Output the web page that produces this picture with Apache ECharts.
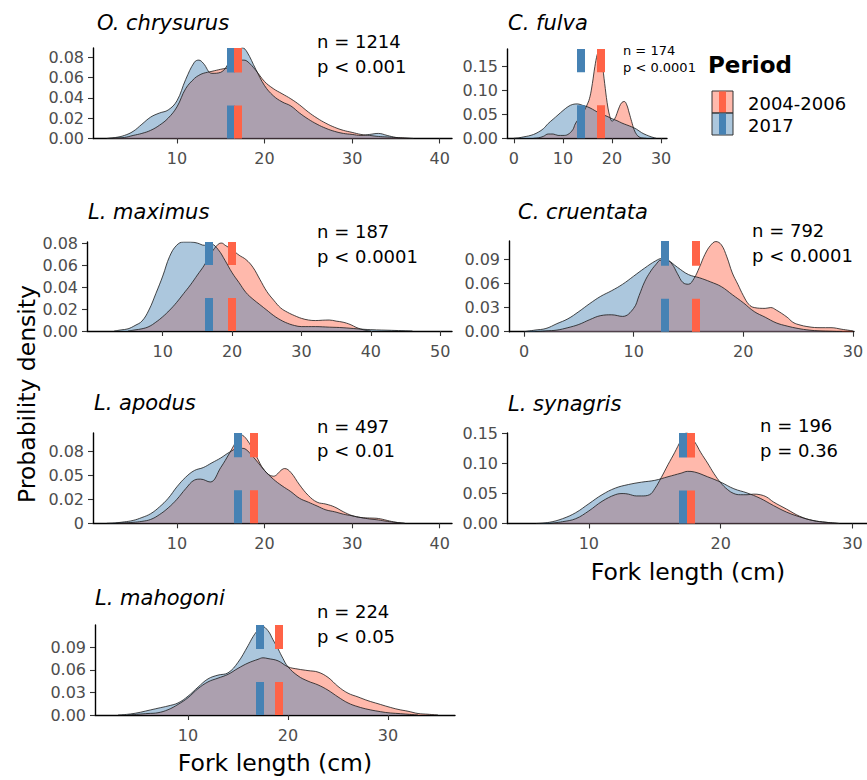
<!DOCTYPE html>
<html>
<head>
<meta charset="utf-8">
<script src="https://cdn.jsdelivr.net/npm/echarts@6/dist/echarts.min.js"></script>
<style>
html, body { margin: 0; padding: 0; background: #fff; }
#main { width: 867px; height: 780px; }
</style>
</head>
<body>
<div id="main"></div>
<script>
// panels in reading order
var species = ['O. chrysurus', 'C. fulva', 'L. maximus', 'C. cruentata', 'L. apodus', 'L. synagris', 'L. mahogoni'];
var sampleSizes = ['n = 1214', 'n = 174', 'n = 187', 'n = 792', 'n = 497', 'n = 196', 'n = 224'];
var pValues = ['p < 0.001', 'p < 0.0001', 'p < 0.0001', 'p < 0.0001', 'p < 0.01', 'p = 0.36', 'p < 0.05'];
var periods = ['2004-2006', '2017'];

// mean fork length (cm) per period
var means2004 = [17.0, 17.8, 20.0, 15.7, 18.8, 17.7, 19.1];
var means2017 = [16.1, 13.7, 16.7, 12.8, 17.0, 17.1, 17.2];

// tick values and labels
var xTicks = [[10, 20, 30, 40], [0, 10, 20, 30], [10, 20, 30, 40, 50], [0, 10, 20, 30], [10, 20, 30, 40], [10, 20, 30], [10, 20, 30]];
var yTicks = [
    [0, 0.02, 0.04, 0.06, 0.08], [0, 0.05, 0.10, 0.15], [0, 0.02, 0.04, 0.06, 0.08], [0, 0.03, 0.06, 0.09],
    [0, 0.025, 0.05, 0.075], [0, 0.05, 0.10, 0.15], [0, 0.03, 0.06, 0.09]
];
var yTickLabels = [
    ['0.00', '0.02', '0.04', '0.06', '0.08'], ['0.00', '0.05', '0.10', '0.15'], ['0.00', '0.02', '0.04', '0.06', '0.08'],
    ['0.00', '0.03', '0.06', '0.09'], ['0', '0.02', '0.05', '0.08'], ['0.00', '0.05', '0.10', '0.15'], ['0.00', '0.03', '0.06', '0.09']
];

// densities: O. chrysurus
var chrysurusX = [2,3,4,5,6,7,8,9,10,11,12,12.5,13,14,15,16,17,17.5,18,19,20,21,22,23,24,25,26,27,28,29,30,31,32,33,34,35,36,37];
var chrysurus2004 = [0,0.0005,0.001,0.003,0.005,0.008,0.013,0.020,0.031,0.049,0.059,0.062,0.064,0.066,0.068,0.070,0.076,0.077,0.076,0.067,0.056,0.049,0.044,0.039,0.033,0.026,0.020,0.015,0.011,0.008,0.006,0.004,0.003,0.002,0.0015,0.001,0.0005,0];
var chrysurus2017 = [0,0.001,0.003,0.007,0.014,0.021,0.025,0.028,0.037,0.058,0.075,0.077,0.074,0.064,0.065,0.075,0.086,0.089,0.085,0.068,0.052,0.042,0.036,0.032,0.025,0.019,0.014,0.010,0.007,0.005,0.004,0.003,0.004,0.005,0.003,0.001,0.0003,0];

// C. fulva
var fulvaX2004 = [4,5,6,7,8,9,10,11,12,12.5,13,14,15,15.5,16,16.5,17,17.4,18,18.5,19,19.5,20,20.5,21,21.5,22,22.5,23,23.5,24,24.5,25,25.5,26,27];
var fulva2004 = [0,0.001,0.004,0.009,0.009,0.006,0.006,0.008,0.018,0.030,0.038,0.052,0.072,0.087,0.115,0.150,0.176,0.185,0.155,0.115,0.075,0.048,0.036,0.040,0.052,0.066,0.075,0.077,0.070,0.053,0.035,0.018,0.008,0.003,0.001,0];
var fulvaX2017 = [0,1,2,3,4,5,6,7,8,9,10,11,12,13,14,15,16,17,18,19,20,21,22,23,24,25,26,27,28,29];
var fulva2017 = [0,0.001,0.003,0.005,0.008,0.013,0.020,0.031,0.040,0.049,0.058,0.066,0.071,0.072,0.069,0.066,0.061,0.055,0.050,0.046,0.041,0.037,0.032,0.028,0.024,0.019,0.012,0.007,0.003,0];

// L. maximus
var maximusX2004 = [5,6,7,8,9,10,11,12,13,14,15,16,17,18,18.5,19,20,21,22,23,24,25,26,27,28,29,30,31,32,33,34,35,36,37,38,39,40];
var maximus2004 = [0,0.001,0.002,0.004,0.008,0.013,0.019,0.026,0.034,0.042,0.051,0.060,0.071,0.079,0.080,0.078,0.074,0.069,0.065,0.058,0.047,0.036,0.028,0.021,0.017,0.014,0.0115,0.010,0.0095,0.0098,0.010,0.009,0.008,0.006,0.003,0.001,0];
var maximusX2017 = [3,4,5,6,7,8,9,10,11,12,13,14,15,16,17,18,19,20,21,22,23,24,25,26,27,28,29,30,32,34,36,38,40,43,46];
var maximus2017 = [0,0.001,0.002,0.005,0.009,0.019,0.034,0.050,0.068,0.078,0.081,0.081,0.080,0.078,0.079,0.074,0.064,0.053,0.044,0.035,0.029,0.024,0.019,0.014,0.010,0.007,0.005,0.004,0.004,0.0035,0.003,0.002,0.0012,0.0006,0];

// C. cruentata
var cruentataX2004 = [1,2,3,4,5,6,7,8,9,10,10.5,11,11.5,12,12.5,13,13.5,14,14.5,15,15.5,16,16.5,17,17.5,18,18.5,19,19.5,20,20.5,21,22,22.5,23,24,24.5,25,26,27,28,29,30];
var cruentata2004 = [0,0.001,0.002,0.005,0.009,0.015,0.020,0.021,0.019,0.029,0.045,0.062,0.074,0.083,0.089,0.089,0.084,0.072,0.061,0.059,0.066,0.080,0.096,0.107,0.112,0.108,0.093,0.073,0.059,0.045,0.034,0.030,0.029,0.030,0.027,0.018,0.012,0.009,0.006,0.005,0.005,0.003,0.001];
var cruentataX2017 = [0,1,2,3,4,5,6,7,8,9,10,11,12,12.6,13,14,15,16,17,18,19,20,21,22,23,24,25,26,27,28,29];
var cruentata2017 = [0,0.002,0.004,0.010,0.016,0.025,0.035,0.044,0.051,0.059,0.069,0.079,0.088,0.091,0.090,0.080,0.071,0.067,0.062,0.056,0.046,0.036,0.025,0.018,0.011,0.007,0.004,0.002,0.001,0.0005,0];

// L. apodus
var apodusX2004 = [3,4,5,6,7,8,9,10,11,12,12.7,13.8,15,16,17,17.3,18,19,20,21,22,22.3,23,24,25,26,27,28,29,30,31,32,33,34,35,36];
var apodus2004 = [0,0.0005,0.001,0.002,0.004,0.009,0.016,0.025,0.036,0.045,0.046,0.043,0.058,0.073,0.089,0.092,0.087,0.071,0.055,0.049,0.056,0.057,0.053,0.040,0.029,0.022,0.020,0.017,0.012,0.008,0.006,0.0055,0.005,0.003,0.001,0];
var apodusX2017 = [2,3,4,5,6,7,8,9,10,11,12,13,14,15,16,17,17.5,18,19,20,21,22,23,24,25,26,27,28,29,30,31,32,33,34,35,36];
var apodus2017 = [0,0.0005,0.0015,0.003,0.006,0.010,0.017,0.026,0.038,0.048,0.055,0.058,0.063,0.068,0.074,0.078,0.078,0.076,0.066,0.055,0.046,0.039,0.033,0.026,0.022,0.018,0.014,0.012,0.0095,0.0078,0.006,0.0045,0.0035,0.002,0.001,0];

// L. synagris
var synagrisX2004 = [7,8,9,10,11,12,12.6,13,13.6,14,14.6,15,15.5,16,16.5,17,17.4,18,18.5,19,19.5,20,20.5,21,21.5,22,22.5,23,23.5,24,25,26,27,28,29];
var synagris2004 = [0,0.003,0.008,0.021,0.037,0.048,0.050,0.049,0.046,0.046,0.048,0.058,0.077,0.098,0.118,0.139,0.151,0.137,0.118,0.101,0.083,0.068,0.057,0.050,0.048,0.048,0.049,0.048,0.044,0.036,0.024,0.012,0.005,0.002,0];
var synagrisX2017 = [6,7,8,9,10,11,12,13,14,15,16,17,17.5,18,19,20,21,22,23,24,25,26,27,28,29];
var synagris2017 = [0,0.002,0.008,0.018,0.033,0.048,0.059,0.065,0.069,0.072,0.078,0.084,0.087,0.086,0.078,0.069,0.058,0.051,0.042,0.030,0.019,0.011,0.005,0.002,0];

// L. mahogoni
var mahogoniX2004 = [4,5,6,7,8,9,10,11,12,13,14,15,16,17,17.5,18,19,20,21,22,23,24,25,26,27,28,29,30,31,32,33,34,35];
var mahogoni2004 = [0,0.001,0.002,0.003,0.007,0.014,0.023,0.035,0.044,0.049,0.054,0.062,0.069,0.074,0.076,0.075,0.072,0.064,0.061,0.059,0.057,0.050,0.038,0.029,0.024,0.019,0.015,0.011,0.0075,0.005,0.002,0.001,0];
var mahogoniX2017 = [3,4,5,6,7,8,9,10,11,12,13,14,15,16,16.5,17,17.4,18,18.5,19,19.5,20,21,22,23,24,25,26,27,28,29,30,31,32,33];
var mahogoni2017 = [0,0.001,0.003,0.006,0.009,0.012,0.016,0.025,0.037,0.048,0.053,0.056,0.070,0.092,0.104,0.113,0.118,0.112,0.100,0.088,0.075,0.064,0.052,0.045,0.040,0.033,0.024,0.016,0.011,0.0075,0.005,0.003,0.002,0.001,0];

var curves2004 = [
    [chrysurusX, chrysurus2004], [fulvaX2004, fulva2004], [maximusX2004, maximus2004], [cruentataX2004, cruentata2004],
    [apodusX2004, apodus2004], [synagrisX2004, synagris2004], [mahogoniX2004, mahogoni2004]
];
var curves2017 = [
    [chrysurusX, chrysurus2017], [fulvaX2017, fulva2017], [maximusX2017, maximus2017], [cruentataX2017, cruentata2017],
    [apodusX2017, apodus2017], [synagrisX2017, synagris2017], [mahogoniX2017, mahogoni2017]
];

// layout of the panels (pixels) and axis ranges
var panels = [
    {left: 93, top: 48, width: 359, height: 90.5, xMin: 0.42, xMax: 41.4, yMax: 0.0889},
    {left: 507, top: 49, width: 160, height: 89.3, xMin: -1.4, xMax: 31.2, yMax: 0.187},
    {left: 87, top: 242, width: 365, height: 89, xMin: -0.92, xMax: 51.7, yMax: 0.081},
    {left: 509, top: 241, width: 345, height: 90.7, xMin: -1.37, xMax: 30.1, yMax: 0.1127},
    {left: 93, top: 433, width: 359, height: 90.3, xMin: 0.42, xMax: 41.4, yMax: 0.094},
    {left: 507, top: 433, width: 360, height: 90.5, xMin: 3.79, xMax: 31.1, yMax: 0.151},
    {left: 95, top: 625, width: 360, height: 90, xMin: 0.7, xMax: 36.7, yMax: 0.1196}
];
var titlePos = [[97, 22.5], [508, 22.5], [88, 212], [518, 212], [94, 403], [508, 404], [95, 598]];
var notePos = [[317, 41.7, 66], [623, 50, 67.5], [317, 231.7, 256.7], [752, 230, 255], [317, 426.7, 450], [760, 425, 450], [317, 611.7, 636.7]];

var FONT = '"DejaVu Sans", sans-serif';
var RED = '#FF6347', BLUE = '#4682B4';
var RED_FILL = 'rgba(255,99,71,0.45)', BLUE_FILL = 'rgba(70,130,180,0.45)';

function zip(xs, ys) {
    return xs.map(function (x, k) { return [x, ys[k]]; });
}

var option = {animation: false, grid: [], xAxis: [], yAxis: [], series: [], graphic: []};

panels.forEach(function (p, i) {
    option.grid.push({left: p.left, top: p.top, width: p.width, height: p.height, containLabel: false});
    option.xAxis.push({
        type: 'value', gridIndex: i, min: p.xMin, max: p.xMax,
        axisLine: {onZero: false, lineStyle: {color: '#000', width: 1.4}},
        axisTick: {customValues: xTicks[i], length: 5, lineStyle: {color: '#333', width: 1.1}},
        axisLabel: {customValues: xTicks[i], color: '#4D4D4D', fontSize: 16, fontFamily: FONT, margin: 12},
        splitLine: {show: false}
    });
    option.yAxis.push({
        type: 'value', gridIndex: i, min: 0, max: p.yMax,
        axisLine: {onZero: false, lineStyle: {color: '#000', width: 1.4}},
        axisTick: {customValues: yTicks[i], length: 5, lineStyle: {color: '#333', width: 1.1}},
        axisLabel: {
            customValues: yTicks[i], color: '#4D4D4D', fontSize: 16, fontFamily: FONT, margin: 9,
            formatter: function (v) {
                for (var k = 0; k < yTicks[i].length; k++) {
                    if (Math.abs(yTicks[i][k] - v) < 1e-9) return yTickLabels[i][k];
                }
                return '';
            }
        },
        splitLine: {show: false}
    });
    option.series.push({
        name: periods[0], type: 'line', xAxisIndex: i, yAxisIndex: i,
        data: zip(curves2004[i][0], curves2004[i][1]),
        smooth: 0.4, symbol: 'none', silent: true,
        lineStyle: {color: '#1a1a1a', width: 0.8},
        areaStyle: {color: RED_FILL, opacity: 1}
    });
    option.series.push({
        name: periods[1], type: 'line', xAxisIndex: i, yAxisIndex: i,
        data: zip(curves2017[i][0], curves2017[i][1]),
        smooth: 0.4, symbol: 'none', silent: true,
        lineStyle: {color: '#1a1a1a', width: 0.8},
        areaStyle: {color: BLUE_FILL, opacity: 1},
        markLine: {
            silent: true, symbol: ['none', 'none'], label: {show: false},
            lineStyle: {width: 8, type: [33, 33], opacity: 1},
            emphasis: {disabled: true},
            data: [
                {xAxis: means2017[i], lineStyle: {color: BLUE}},
                {xAxis: means2004[i], lineStyle: {color: RED}}
            ]
        }
    });

    option.graphic.push({
        type: 'text', x: titlePos[i][0], y: titlePos[i][1],
        style: {text: species[i], fontSize: 21, fontStyle: 'italic', fontFamily: FONT, fill: '#000', verticalAlign: 'middle'}
    });
    var small = i === 1;
    option.graphic.push({
        type: 'text', x: notePos[i][0], y: notePos[i][1],
        style: {text: sampleSizes[i], fontSize: small ? 13 : 18, fontFamily: FONT, fill: '#000', verticalAlign: 'middle'}
    });
    option.graphic.push({
        type: 'text', x: notePos[i][0], y: notePos[i][2],
        style: {text: pValues[i], fontSize: small ? 13 : 18, fontFamily: FONT, fill: '#000', verticalAlign: 'middle'}
    });
});

// axis titles
option.graphic.push({
    type: 'text', x: 27, y: 394, rotation: Math.PI / 2,
    style: {text: 'Probability density', fontSize: 23.5, fontFamily: FONT, fill: '#000', align: 'center', verticalAlign: 'middle'}
});
option.graphic.push({
    type: 'text', x: 688, y: 572,
    style: {text: 'Fork length (cm)', fontSize: 23.5, fontFamily: FONT, fill: '#000', align: 'center', verticalAlign: 'middle'}
});
option.graphic.push({
    type: 'text', x: 275, y: 763,
    style: {text: 'Fork length (cm)', fontSize: 23.5, fontFamily: FONT, fill: '#000', align: 'center', verticalAlign: 'middle'}
});

// legend
option.graphic.push({
    type: 'text', x: 708, y: 65,
    style: {text: 'Period', fontSize: 23, fontWeight: 'bold', fontFamily: FONT, fill: '#000', verticalAlign: 'middle'}
});
[[RED_FILL, RED], [BLUE_FILL, BLUE]].forEach(function (c, k) {
    var top = 91 + k * 22;
    option.graphic.push({type: 'rect', shape: {x: 712, y: top, width: 21, height: 22}, style: {fill: c[0], stroke: '#333', lineWidth: 1}});
    option.graphic.push({type: 'rect', shape: {x: 719, y: top + 0.5, width: 7, height: 21}, style: {fill: c[1]}});
    option.graphic.push({
        type: 'text', x: 748, y: top + 12,
        style: {text: periods[k], fontSize: 18, fontFamily: FONT, fill: '#000', verticalAlign: 'middle'}
    });
});

var chart = echarts.init(document.getElementById('main'), null, {renderer: 'svg'});
chart.setOption(option);
</script>
</body>
</html>
